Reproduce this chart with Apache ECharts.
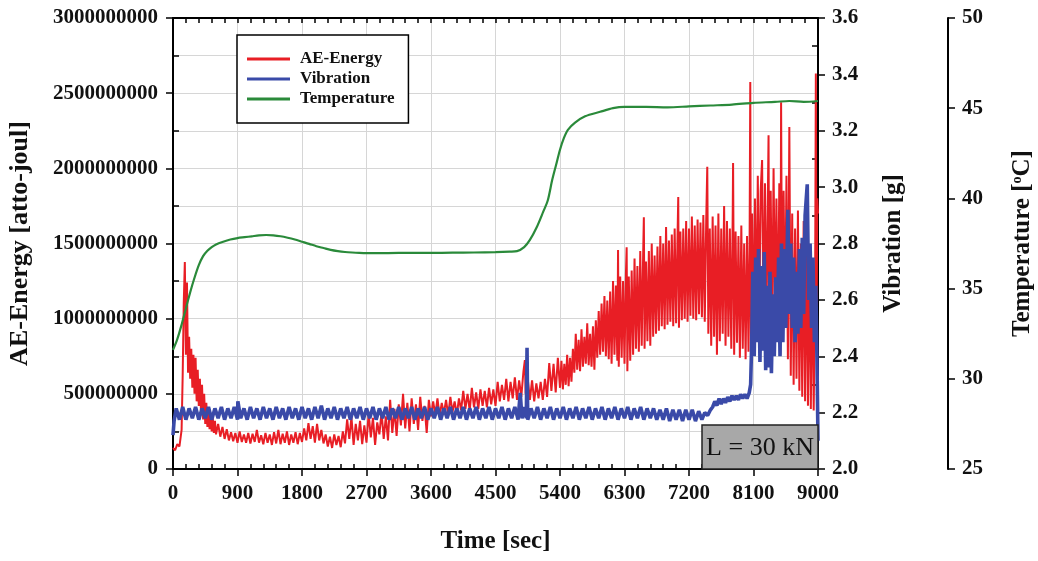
<!DOCTYPE html>
<html><head><meta charset="utf-8">
<script src="https://cdn.jsdelivr.net/npm/echarts@6/dist/echarts.min.js"></script>
<style>html,body{margin:0;padding:0;background:#fff}#c{width:1038px;height:561px}</style>
</head><body><div id="c"></div>
<script>
// ---- data (time in sec) ----
const seriesNames = ['AE-Energy', 'Vibration', 'Temperature'];
// AE-Energy in millions of atto-joul: [time, value]
const aeEnergyMillions = [
[0,140],[30,125],[60,165],[90,150],[120,260],[135,620],[150,1100],[165,1377],[180,760],[195,1240],
[210,640],[225,880],[240,600],[255,800],[270,540],[285,760],[300,500],[315,740],[330,450],[345,660],
[360,420],[375,600],[390,390],[405,560],[420,330],[435,500],[450,300],[465,440],[480,280],[495,400],
[510,265],[525,360],[540,250],[555,340],[570,240],[585,320],[600,230],[630,300],[660,215],[690,280],
[720,200],[750,265],[780,190],[810,245],[840,185],[870,240],[900,175],[930,250],[960,180],[990,230],
[1020,175],[1050,240],[1080,170],[1110,235],[1140,180],[1170,260],[1200,175],[1230,225],[1260,165],[1290,240],
[1320,175],[1350,230],[1380,160],[1410,245],[1440,170],[1470,260],[1500,165],[1530,235],[1560,175],[1590,250],
[1620,160],[1650,230],[1680,175],[1710,245],[1740,165],[1770,240],[1800,180],[1830,270],[1860,190],[1890,305],
[1920,200],[1950,285],[1980,175],[2010,300],[2040,190],[2070,260],[2100,170],[2130,230],[2160,150],[2190,215],
[2220,140],[2250,230],[2280,160],[2310,220],[2340,145],[2370,250],[2400,170],[2430,330],[2460,200],[2490,345],
[2520,160],[2550,300],[2580,190],[2610,320],[2640,165],[2670,290],[2700,175],[2730,370],[2760,210],[2790,340],
[2820,160],[2850,310],[2880,230],[2910,380],[2940,200],[2970,350],[3000,190],[3030,460],[3060,240],[3090,400],
[3120,220],[3150,430],[3180,290],[3210,500],[3240,270],[3270,440],[3300,250],[3330,470],[3360,300],[3390,430],
[3420,260],[3450,480],[3480,320],[3510,420],[3540,240],[3570,460],[3600,350],[3630,450],[3660,360],[3690,470],
[3720,350],[3750,440],[3780,370],[3810,460],[3840,355],[3870,480],[3900,380],[3930,450],[3960,360],[3990,470],
[4020,390],[4050,520],[4080,400],[4110,500],[4140,390],[4170,540],[4200,410],[4230,510],[4260,400],[4290,530],
[4320,420],[4350,520],[4380,410],[4410,540],[4440,430],[4470,530],[4500,420],[4530,580],[4560,450],[4590,560],
[4620,460],[4650,600],[4680,450],[4710,580],[4740,470],[4770,610],[4800,460],[4830,590],[4860,480],[4890,650],
[4910,725],[4920,500],[4950,600],[4980,460],[5010,590],[5040,450],[5070,570],[5100,470],[5130,580],[5160,460],
[5190,600],[5220,480],[5250,705],[5280,520],[5310,700],[5340,510],[5370,740],
[5400,540],[5420,720],[5440,530],[5460,700],[5480,560],[5500,760],[5520,550],[5540,740],[5560,580],[5580,800],
[5600,640],[5620,900],[5640,660],[5660,860],[5680,650],[5700,930],[5720,680],[5740,880],[5760,700],[5780,970],
[5800,690],[5820,900],[5840,680],[5860,950],[5880,660],[5900,990],[5920,740],[5940,1050],[5960,760],[5980,1100],
[6000,780],[6020,1150],[6040,750],[6060,1120],[6080,730],[6100,1180],[6120,700],[6140,1250],[6160,760],[6180,1220],
[6200,720],[6210,1457],[6220,680],[6240,1280],[6260,740],[6280,1250],[6300,700],[6320,1300],[6330,1475],[6340,650],
[6360,1280],[6380,720],[6400,1320],[6420,760],[6440,1400],[6460,800],[6480,1350],[6500,780],[6520,1450],[6540,820],
[6560,1420],[6570,1675],[6580,800],[6600,1380],[6620,850],[6640,1450],[6660,820],[6680,1500],[6700,880],[6720,1420],
[6740,900],[6760,1480],[6780,920],[6800,1550],[6820,950],[6840,1500],[6860,930],[6880,1610],[6900,960],[6920,1520],
[6940,980],[6960,1560],[6980,950],[7000,1600],[7020,970],[7040,1550],[7050,1810],[7060,940],[7080,1580],[7100,990],
[7120,1600],[7140,1000],[7160,1650],[7180,980],[7200,1600],[7220,1020],[7240,1680],[7260,1000],[7280,1620],[7300,990],
[7320,1660],[7340,1030],[7360,1640],[7380,1010],[7400,1690],[7420,980],[7440,1650],[7455,2010],[7470,900],[7490,1600],
[7510,820],[7530,1680],[7550,880],[7570,1620],[7590,760],[7610,1700],[7630,850],[7650,1600],[7670,900],[7690,1750],
[7710,820],[7730,1650],[7750,880],[7770,1600],[7790,800],[7810,1700],[7815,2035],[7830,760],[7850,1580],[7870,840],
[7890,1550],[7910,740],[7930,1620],[7950,800],[7970,1500],[7990,730],[8010,1550],[8030,780],[8045,1450],[8055,2575],
[8065,760],[8080,1700],[8100,880],[8120,1800],[8140,950],[8160,1950],[8180,1000],[8200,1850],[8220,2055],[8240,860],
[8260,1900],[8280,950],[8300,1800],[8310,2220],[8320,820],[8340,1850],[8360,900],[8380,2000],[8400,1050],[8420,1800],
[8440,880],[8460,1900],[8475,760],[8485,2440],[8500,900],[8520,1850],[8540,950],[8560,1950],[8580,730],[8600,2275],
[8620,620],[8640,1700],[8660,560],[8680,1600],[8700,600],[8720,1720],[8740,520],[8760,1500],[8780,480],[8800,1650],
[8820,450],[8840,1550],[8860,420],[8880,1450],[8900,400],[8920,1400],[8940,390],[8960,1250],[8970,2630],[8980,900],
[8990,1800],[9000,1700]
];
// Vibration in g: [time, value]
const vibrationG = [
[0,2.12],[15,2.17],[45,2.215],[90,2.175],[135,2.22],[180,2.175],[225,2.215],[270,2.18],[315,2.22],[360,2.175],
[405,2.215],[450,2.18],[495,2.22],[540,2.175],[585,2.215],[630,2.18],[675,2.22],[720,2.175],[765,2.215],[810,2.18],
[855,2.22],[900,2.175],[905,2.24],[945,2.18],[990,2.215],[1035,2.175],[1080,2.22],[1125,2.18],[1170,2.215],[1215,2.175],
[1260,2.22],[1305,2.18],[1350,2.215],[1395,2.175],[1440,2.22],[1485,2.18],[1530,2.215],[1575,2.175],[1620,2.22],[1665,2.18],
[1710,2.215],[1755,2.175],[1800,2.22],[1845,2.18],[1890,2.215],[1935,2.175],[1980,2.22],[2025,2.18],[2070,2.225],[2115,2.175],
[2160,2.215],[2205,2.18],[2250,2.22],[2295,2.175],[2340,2.215],[2385,2.18],[2430,2.22],[2475,2.175],[2520,2.215],[2565,2.18],
[2610,2.22],[2655,2.175],[2700,2.215],[2745,2.18],[2790,2.22],[2835,2.175],[2880,2.215],[2925,2.18],[2970,2.22],[3015,2.175],
[3060,2.215],[3105,2.18],[3150,2.22],[3195,2.175],[3240,2.215],[3285,2.18],[3330,2.22],[3375,2.175],[3420,2.215],[3465,2.18],
[3510,2.22],[3555,2.175],[3600,2.215],[3645,2.18],[3690,2.22],[3735,2.175],[3780,2.215],[3825,2.18],[3870,2.22],[3915,2.175],
[3960,2.215],[4005,2.18],[4050,2.22],[4095,2.175],[4140,2.215],[4185,2.18],[4230,2.22],[4275,2.175],[4320,2.215],[4365,2.18],
[4410,2.22],[4455,2.175],[4500,2.215],[4545,2.18],[4590,2.22],[4635,2.175],[4680,2.215],[4725,2.18],[4770,2.22],[4815,2.175],
[4845,2.27],[4870,2.18],[4905,2.22],[4930,2.18],[4940,2.43],[4950,2.175],[4995,2.215],[5040,2.18],[5085,2.22],[5130,2.175],
[5175,2.215],[5220,2.18],[5265,2.22],[5310,2.175],[5355,2.215],[5400,2.18],[5445,2.22],[5490,2.175],[5535,2.215],[5580,2.18],
[5625,2.22],[5670,2.175],[5715,2.215],[5760,2.18],[5805,2.22],[5850,2.175],[5895,2.215],[5940,2.18],[5985,2.22],[6030,2.175],
[6075,2.215],[6120,2.18],[6165,2.22],[6210,2.175],[6255,2.215],[6300,2.18],[6345,2.22],[6390,2.175],[6435,2.215],[6480,2.18],
[6525,2.22],[6570,2.175],[6615,2.215],[6660,2.18],[6705,2.215],[6750,2.175],[6795,2.21],[6840,2.175],[6885,2.215],[6930,2.17],
[6975,2.21],[7020,2.175],[7065,2.21],[7110,2.17],[7155,2.21],[7200,2.175],[7245,2.21],[7290,2.17],[7335,2.205],[7380,2.175],
[7420,2.20],[7460,2.19],[7500,2.21],[7530,2.22],[7560,2.24],[7590,2.225],[7620,2.25],[7650,2.23],[7680,2.25],[7710,2.235],
[7740,2.255],[7770,2.24],[7800,2.26],[7830,2.245],[7860,2.26],[7890,2.245],[7920,2.265],[7950,2.25],[7980,2.265],[8010,2.25],
[8040,2.27],[8060,2.30],[8075,2.45],[8090,2.70],[8110,2.40],[8130,2.75],[8150,2.45],[8170,2.78],[8190,2.38],[8210,2.72],
[8230,2.42],[8250,2.77],[8270,2.35],[8290,2.65],[8310,2.36],[8330,2.70],[8350,2.34],[8370,2.62],[8390,2.40],[8410,2.68],
[8430,2.45],[8450,2.75],[8470,2.40],[8490,2.80],[8510,2.45],[8530,2.78],[8550,2.50],[8580,2.92],[8600,2.55],[8620,2.80],
[8640,2.50],[8660,2.75],[8680,2.45],[8700,2.70],[8720,2.48],[8740,2.78],[8760,2.50],[8780,2.82],[8800,2.55],[8820,2.90],
[8850,3.01],[8870,2.60],[8890,2.80],[8910,2.50],[8930,2.75],[8950,2.45],[8970,2.65],[8985,2.40],[9000,2.10]
];
// Temperature in °C: [time, value]
const temperatureC = [
[0,31.6],[60,32.2],[120,33.0],[180,33.9],[240,34.8],[300,35.6],[360,36.3],[420,36.8],[480,37.1],[540,37.3],
[600,37.45],[700,37.6],[800,37.72],[900,37.8],[1000,37.85],[1100,37.9],[1200,37.95],[1300,37.97],[1400,37.95],[1500,37.9],
[1600,37.82],[1700,37.72],[1800,37.6],[1900,37.48],[2000,37.35],[2100,37.25],[2200,37.15],[2300,37.08],[2400,37.03],[2500,37.0],
[2600,36.98],[2700,36.97],[3000,36.97],[3300,36.98],[3600,36.98],[3900,36.99],[4200,37.0],[4500,37.02],[4700,37.05],[4800,37.08],
[4900,37.3],[4980,37.7],[5075,38.4],[5165,39.25],[5230,39.9],[5290,41.0],[5345,41.85],[5400,42.7],[5455,43.35],[5510,43.8],
[5610,44.2],[5750,44.55],[5960,44.8],[6140,45.0],[6300,45.07],[6600,45.07],[6900,45.05],[7200,45.1],[7500,45.15],[7800,45.2],
[8100,45.3],[8400,45.35],[8600,45.4],[8800,45.35],[9000,45.4]
];
const xTicks = {min: 0, max: 9000, step: 900};
const aeTicks = {min: 0, max: 3000000000, step: 500000000};
const vibTicks = {min: 2.0, max: 3.6, step: 0.2};
const tempTicks = {min: 25, max: 50, step: 5};
const loadLabel = 'L = 30 kN';

// ---- chart ----
const FONT = '"Liberation Serif", "Times New Roman", serif';
const BLACK = '#111';
const axisLine = {show: true, onZero: false, lineStyle: {color: '#000', width: 2}};
const tickStyle = {color: '#000', width: 1.5};
const gridColor = '#d6d6d6';
const labelStyle = {fontFamily: FONT, fontWeight: 'bold', fontSize: 21, color: BLACK};
const nameStyle = {fontFamily: FONT, fontWeight: 'bold', fontSize: 25, color: BLACK};

const chart = echarts.init(document.getElementById('c'), null, {renderer: 'canvas'});
const option = {
  animation: false,
  backgroundColor: '#fff',
  grid: {left: 173, right: 220, top: 18, bottom: 92, containLabel: false, outerBoundsMode: 'none'},
  legend: {
    data: seriesNames,
    orient: 'vertical', left: 237, top: 35,
    icon: 'rect', itemWidth: 43, itemHeight: 3, itemGap: 0,
    padding: [14, 14, 14, 10],
    backgroundColor: '#fff', borderColor: '#000', borderWidth: 1.5,
    textStyle: {fontFamily: FONT, fontWeight: 'bold', fontSize: 17, color: BLACK, lineHeight: 20, padding: [0, 0, 0, 5]},
    z: 20
  },
  xAxis: [{
    type: 'value', position: 'bottom', min: xTicks.min, max: xTicks.max, interval: xTicks.step,
    axisLine: axisLine,
    axisTick: {show: true, length: 7, lineStyle: tickStyle},
    minorTick: {show: true, splitNumber: 5, length: -5, lineStyle: tickStyle},
    axisLabel: Object.assign({margin: 14, formatter: v => String(v)}, labelStyle),
    splitLine: {show: true, lineStyle: {color: gridColor, width: 1}},
    name: 'Time [sec]', nameLocation: 'middle', nameGap: 60, nameTextStyle: nameStyle
  }, {
    type: 'value', position: 'top', min: xTicks.min, max: xTicks.max, interval: xTicks.step,
    axisLine: axisLine,
    axisTick: {show: true, inside: true, length: 5, lineStyle: tickStyle},
    minorTick: {show: true, splitNumber: 5, length: 5, lineStyle: tickStyle},
    axisLabel: {show: false}, splitLine: {show: false}
  }],
  yAxis: [{
    type: 'value', position: 'left', min: aeTicks.min, max: aeTicks.max, interval: aeTicks.step,
    axisLine: axisLine,
    axisTick: {show: true, length: 7, lineStyle: tickStyle},
    minorTick: {show: true, splitNumber: 2, length: -6, lineStyle: tickStyle},
    axisLabel: Object.assign({margin: 15, formatter: v => String(v)}, labelStyle),
    splitLine: {show: true, lineStyle: {color: gridColor, width: 1}},
    minorSplitLine: {show: true, lineStyle: {color: gridColor, width: 1}},
    name: 'AE-Energy [atto-joul]', nameLocation: 'middle', nameRotate: 90, nameGap: 140, nameTextStyle: Object.assign({}, nameStyle, {fontSize: 26})
  }, {
    type: 'value', position: 'right', min: vibTicks.min, max: vibTicks.max, interval: vibTicks.step,
    axisLine: axisLine,
    axisTick: {show: true, length: 7, lineStyle: tickStyle},
    minorTick: {show: true, splitNumber: 2, length: -6, lineStyle: tickStyle},
    axisLabel: Object.assign({margin: 14, formatter: v => v.toFixed(1)}, labelStyle),
    splitLine: {show: false},
    name: 'Vibration [g]', nameLocation: 'middle', nameRotate: 90, nameGap: 63, nameTextStyle: nameStyle
  }, {
    type: 'value', position: 'right', offset: 130, min: tempTicks.min, max: tempTicks.max, interval: tempTicks.step,
    axisLine: axisLine,
    axisTick: {show: true, length: 7, lineStyle: tickStyle},
    axisLabel: Object.assign({margin: 14}, labelStyle),
    splitLine: {show: false},
    name: 'Temperature [{sup|o}C]', nameLocation: 'middle', nameRotate: 90, nameGap: 62,
    nameTextStyle: Object.assign({}, nameStyle, {rich: {sup: {fontFamily: FONT, fontWeight: 'bold', fontSize: 14, lineHeight: 14, verticalAlign: 'top', color: BLACK}}})
  }],
  series: [{
    name: seriesNames[0], type: 'line', xAxisIndex: 0, yAxisIndex: 0,
    data: aeEnergyMillions.map(p => [p[0], p[1] * 1e6]),
    symbol: 'none', sampling: null, lineStyle: {color: '#e81e25', width: 2}, itemStyle: {color: '#e81e25'}, z: 2
  }, {
    name: seriesNames[1], type: 'line', xAxisIndex: 0, yAxisIndex: 1,
    data: vibrationG,
    symbol: 'none', lineStyle: {color: '#3a4aa8', width: 3.6}, itemStyle: {color: '#3a4aa8'}, z: 3
  }, {
    name: seriesNames[2], type: 'line', xAxisIndex: 0, yAxisIndex: 2,
    data: temperatureC,
    symbol: 'none', smooth: 0.3, lineStyle: {color: '#2a8a3a', width: 2.2}, itemStyle: {color: '#2a8a3a'}, z: 4
  }],
  graphic: [{
    type: 'rect', z: 50,
    shape: {x: 702, y: 425, width: 116, height: 44},
    style: {fill: '#a8a8a8', stroke: '#222', lineWidth: 1.5}
  }, {
    type: 'text', z: 51, x: 760, y: 448,
    style: {text: loadLabel, font: '26px "Liberation Serif", serif', fill: '#111', align: 'center', verticalAlign: 'middle', textAlign: 'center', textVerticalAlign: 'middle'}
  }]
};
chart.setOption(option);
</script></body></html>
